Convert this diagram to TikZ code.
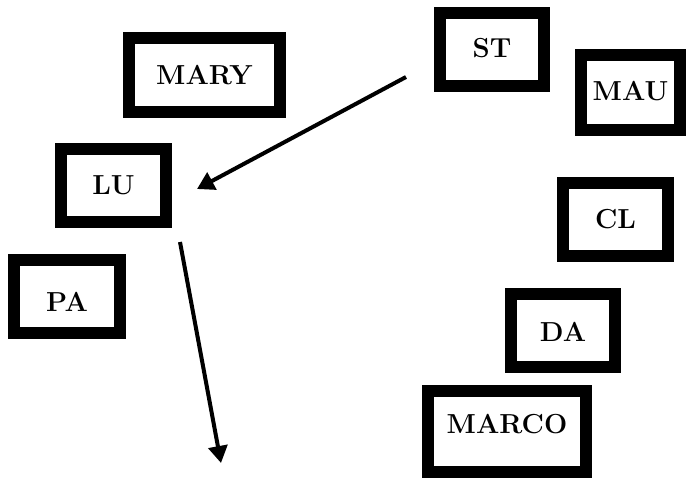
\documentclass[tikz,border=0pt]{standalone}
\usepackage{tikz}
\usetikzlibrary{arrows.meta}

\begin{document}
\begin{tikzpicture}[x=1pt, y=-1pt,
  namebox/.style={draw, line width=12pt, minimum width=105pt, minimum height=73pt, inner sep=0pt, font=\fontsize{27.5}{30}\selectfont\bfseries},
  pointer/.style={line width=4pt, -{Triangle[length=17pt, width=19pt]}}]
 \useasboundingbox (0,0) rectangle (688,479);
 \node[namebox, minimum width=151pt, minimum height=74pt] (mary) at (204.5,75){MARY};
 \node[namebox] (lu) at (113.5,185.5){LU};
 \node[namebox, minimum width=106pt, text height=30pt] (pa) at (67,296.5){PA};
 \node[namebox, minimum width=104pt, text depth=3pt] (st) at (492,49.5){ST};
 \node[namebox, minimum width=99pt, minimum height=75pt, text depth=4pt] (mau) at (630.5,92.5){MAU};
 \node[namebox] (cl) at (615.5,219.5){CL};
 \node[namebox, minimum width=104pt, text height=22pt] (da) at (563,330.5){DA};
 \node[namebox, minimum width=158pt, minimum height=81pt, text depth=16pt] (marco) at (507,431.5){MARCO};
 \coordinate (fromst) at (406,77);
 \coordinate (tolu) at (197,189);
 \coordinate (fromlu) at (180,242);
 \coordinate (down) at (221,463);
 \draw[pointer] (fromst) -- (tolu);
 \draw[pointer] (fromlu) -- (down);
\end{tikzpicture}
\end{document}
